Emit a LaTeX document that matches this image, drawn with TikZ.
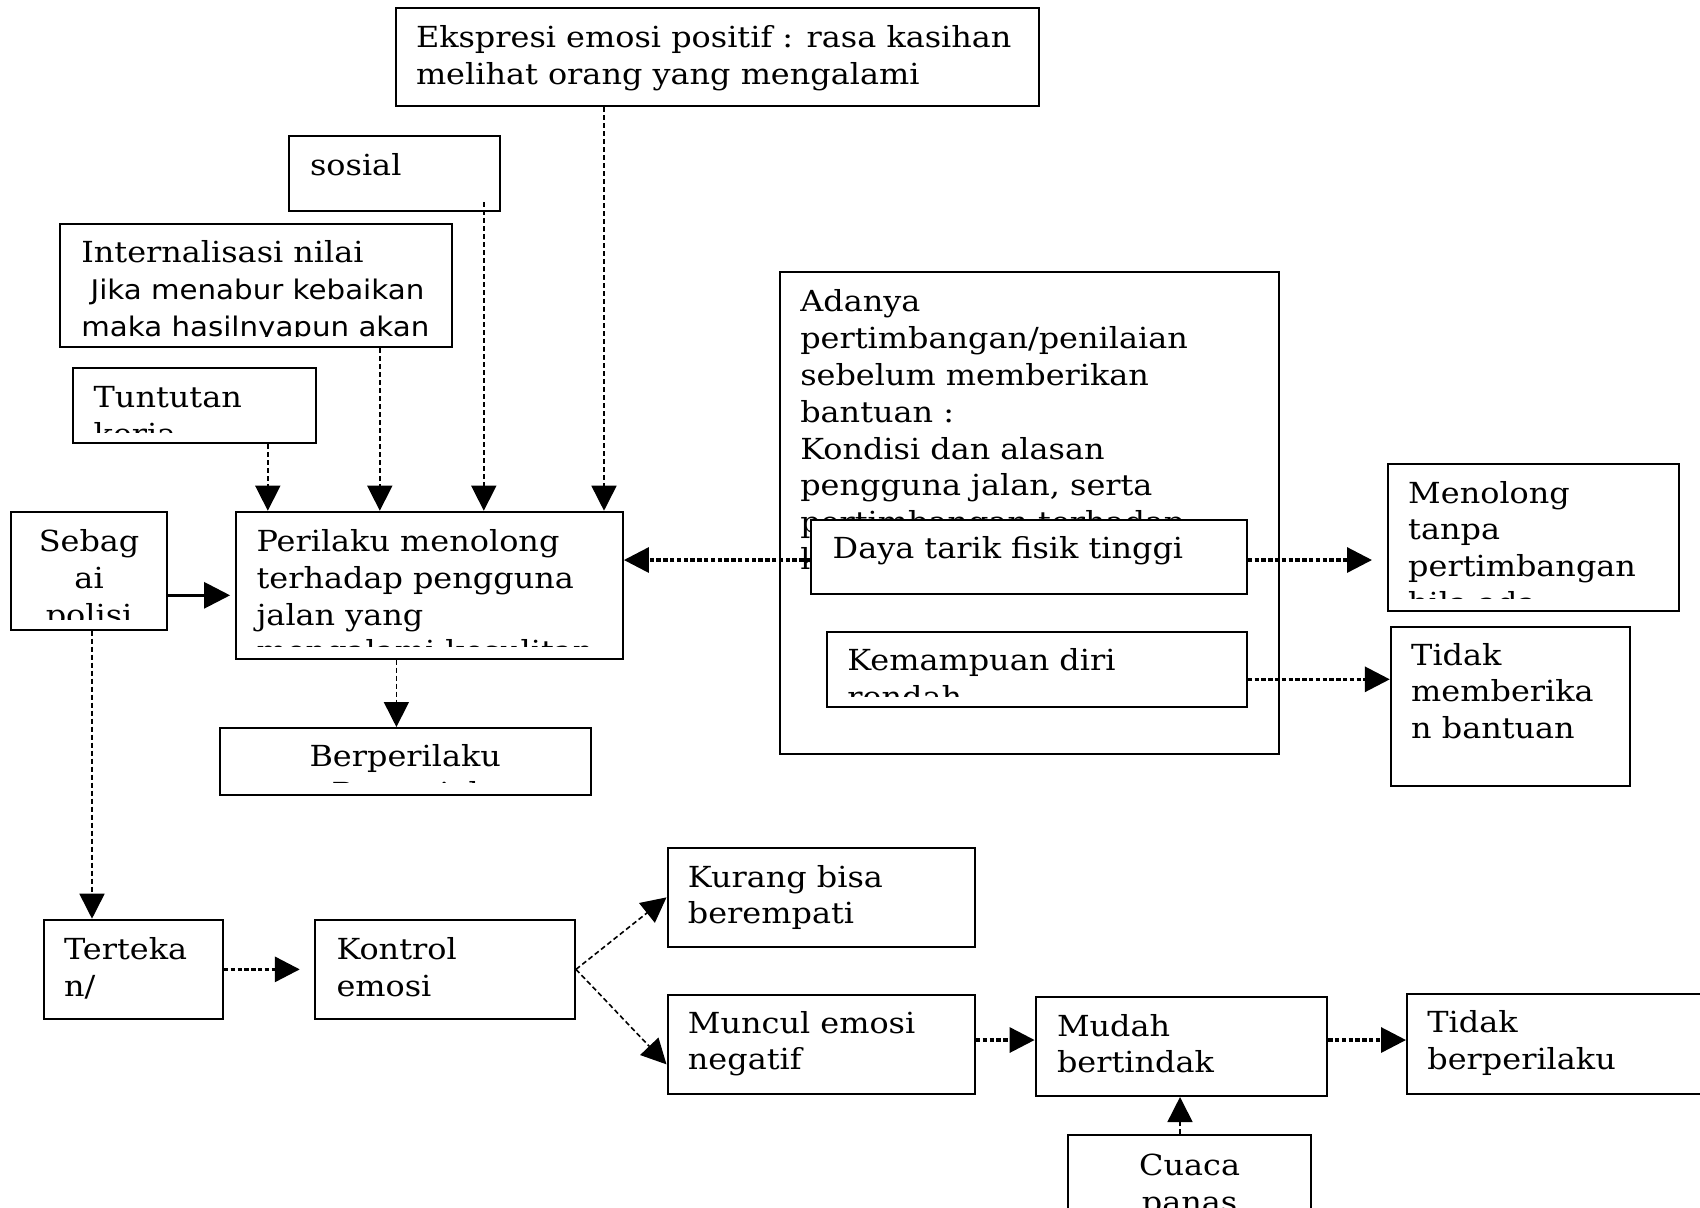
\documentclass[tikz,border=0pt]{standalone}
\usepackage{fontspec}
\setmainfont{DejaVu Serif}[FakeStretch=1.1]
\newfontfamily\sansf{DejaVu Sans}[FakeStretch=1.085]
\usetikzlibrary{calc}
\usetikzlibrary{arrows.meta}

\tikzset{
  box/.style={draw,line width=1pt,fill=white,anchor=north west,inner sep=0pt},
  txt/.style={inner sep=0pt,align=left,anchor=north west,font=\fontsize{14.5}{18.4}\selectfont},
  dline/.style={line width=0.8pt,dash pattern=on 2.5pt off 1.5pt,-{Triangle[length=12.5pt,width=12.5pt]}},
  tline/.style={line width=1.6pt,dash pattern=on 2.2pt off 1.2pt,-{Triangle[length=12.5pt,width=12.5pt]}},
  sline/.style={line width=1.5pt,-{Triangle[length=13pt,width=13pt]}},
}

% text of a box, cut off above its lower edge
\def\lift{5.75pt}
\newcommand{\boxtext}[4][]{%
  \begin{scope}
    \clip ([yshift=\lift]#2.south west) rectangle (#2.north east);
    \node[txt,#1] at (#3) {\strut#4};
  \end{scope}}

\begin{document}
\begin{tikzpicture}[x=0.5pt,y=-0.5pt]
\useasboundingbox (0,0) rectangle (1700,1207);

% boxes
\node[box,minimum width=321.5pt,minimum height=49.35pt] (ekspresi) at (394.6,6.5) {};
\node[box,minimum width=105.75pt,minimum height=37.65pt] (sosial) at (287.7,134.7) {};
\node[box,minimum width=196.1pt,minimum height=61.65pt] (intern) at (58.9,222.7) {};
\node[box,minimum width=121.7pt,minimum height=37.65pt] (tuntutan) at (71.7,366.7) {};
\node[box,minimum width=77.7pt,minimum height=59pt] (sebagai) at (10.4,510.7) {};
\node[box,minimum width=193.6pt,minimum height=73.5pt] (perilaku) at (234.7,510.7) {};
\node[box,minimum width=185.75pt,minimum height=33.35pt] (berperilaku) at (218.5,727) {};
\node[box,minimum width=249.4pt,minimum height=241.3pt] (adanya) at (778.9,270.7) {};
\node[box,minimum width=145.35pt,minimum height=73.65pt] (menolong) at (1386.8,462.7) {};
\node[box,minimum width=119.5pt,minimum height=79.65pt] (tidakberi) at (1389.8,625.7) {};
\node[box,minimum width=89.6pt,minimum height=49.65pt] (terteka) at (42.7,918.7) {};
\node[box,minimum width=129.8pt,minimum height=49.65pt] (kontrol) at (314.4,918.7) {};
\node[box,minimum width=153.7pt,minimum height=49.65pt] (kurang) at (666.5,846.7) {};
\node[box,minimum width=153.7pt,minimum height=49.35pt] (muncul) at (666.5,994) {};
\node[box,minimum width=145.8pt,minimum height=49.65pt] (mudah) at (1034.6,995.7) {};
\node[box,minimum width=160pt,minimum height=49.7pt] (tidakperilaku) at (1406,993.3) {};
\node[box,minimum width=121.55pt,minimum height=50pt] (cuaca) at (1067.1,1134.3) {};

\boxtext{ekspresi}{$(ekspresi.north west)+(21,14.7)$}{Ekspresi emosi positif : rasa kasihan\\melihat orang yang mengalami}
\boxtext{sosial}{$(sosial.north west)+(22,14.7)$}{sosial}
\boxtext[yshift=0.5pt]{intern}{$(intern.north west)+(22,14.7)$}{Internalisasi nilai\\{\sansf\fontsize{13.5}{16.7}\selectfont\ Jika menabur kebaikan}\\{\sansf\fontsize{13.5}{16.7}\selectfont maka hasilnyapun akan}}
\boxtext{tuntutan}{$(tuntutan.north west)+(21.6,14.7)$}{Tuntutan\\kerja}
\boxtext[align=center,anchor=north]{sebagai}{$(sebagai.north)+(0,14.7)$}{Sebag\\ai\\polisi}
{\def\lift{6.6pt}
\boxtext{perilaku}{$(perilaku.north west)+(21.5,14.7)$}{Perilaku menolong\\terhadap pengguna\\jalan yang\\mengalami kesulitan}
\boxtext[align=center,anchor=north]{berperilaku}{$(berperilaku.north)+(0,13.2)$}{Berperilaku\\Prososial}}
\boxtext{adanya}{$(adanya.north west)+(21,15)$}{Adanya\\pertimbangan/penilaian\\sebelum memberikan\\bantuan :\\Kondisi dan alasan\\pengguna jalan, serta\\pertimbangan terhadap\\korban}

% boxes lying on top of the large one
\node[box,minimum width=217.7pt,minimum height=37.3pt] (daya) at (810.3,518.7) {};
\node[box,minimum width=209.7pt,minimum height=37.5pt] (kemampuan) at (826.3,630.7) {};
\boxtext{daya}{$(daya.north west)+(22,13.8)$}{Daya tarik fisik tinggi}
\boxtext{kemampuan}{$(kemampuan.north west)+(20.7,13.5)$}{Kemampuan diri\\rendah}

{\def\lift{6.8pt}
\boxtext{menolong}{$(menolong.north west)+(21,14.2)$}{Menolong\\tanpa\\pertimbangan\\bila ada}}
\boxtext{tidakberi}{$(tidakberi.north west)+(21,13.2)$}{Tidak\\memberika\\n bantuan}
\boxtext{terteka}{$(terteka.north west)+(21,14.7)$}{Terteka\\n/}
\boxtext{kontrol}{$(kontrol.north west)+(21.7,14.7)$}{Kontrol\\emosi}
\boxtext{kurang}{$(kurang.north west)+(21,14.2)$}{Kurang bisa\\berempati}
\boxtext{muncul}{$(muncul.north west)+(21,12.9)$}{Muncul emosi\\negatif}
\boxtext{mudah}{$(mudah.north west)+(22,14.2)$}{Mudah\\bertindak}
\boxtext{tidakperilaku}{$(tidakperilaku.north west)+(21,13.4)$}{Tidak\\berperilaku}
\boxtext[align=center,anchor=north]{cuaca}{$(cuaca.north)+(0,14.9)$}{Cuaca\\panas}

% connector positions
\coordinate (ax1) at (267.8,0);
\coordinate (ax2) at (379.8,0);
\coordinate (ax3) at (483.8,0);
\coordinate (ax4) at (604,0);
\coordinate (ax5) at (396.4,0);
\coordinate (ax6) at (92,0);
\coordinate (ax7) at (1180,0);
\coordinate (ay1) at (0,595.3);
\coordinate (ay2) at (0,560);
\coordinate (ay3) at (0,679.3);
\coordinate (ay4) at (0,1040);

\draw[dline] (ekspresi.south -| ax4) -- (perilaku.north -| ax4);
\draw[dline] ($(sosial.south -| ax3)+(0,-10)$) -- (perilaku.north -| ax3);
\draw[dline] (intern.south -| ax2) -- (perilaku.north -| ax2);
\draw[dline] (tuntutan.south -| ax1) -- (perilaku.north -| ax1);
\draw[sline,shorten >=2.3pt] (sebagai.east |- ay1) -- (perilaku.west |- ay1);
\draw[tline] (daya.west |- ay2) -- (perilaku.east |- ay2);
\draw[dline] (perilaku.south -| ax5) -- (berperilaku.north -| ax5);
\draw[dline] (sebagai.south -| ax6) -- (terteka.north -| ax6);
\draw[tline,shorten >=7.4pt] (daya.east |- ay2) -- (menolong.west |- ay2);
\draw[tline] (kemampuan.east |- ay3) -- (tidakberi.west |- ay3);
\draw[tline,shorten >=7.3pt] (terteka.east) -- (kontrol.west);
\draw[dline] (kontrol.east) -- (kurang.west);
\draw[dline] (kontrol.east) -- ($(muncul.west)+(0,20)$);
\draw[tline] (muncul.east |- ay4) -- (mudah.west |- ay4);
\draw[tline] (mudah.east |- ay4) -- (tidakperilaku.west |- ay4);
\draw[dline] (cuaca.north -| ax7) -- (mudah.south -| ax7);
\end{tikzpicture}
\end{document}
